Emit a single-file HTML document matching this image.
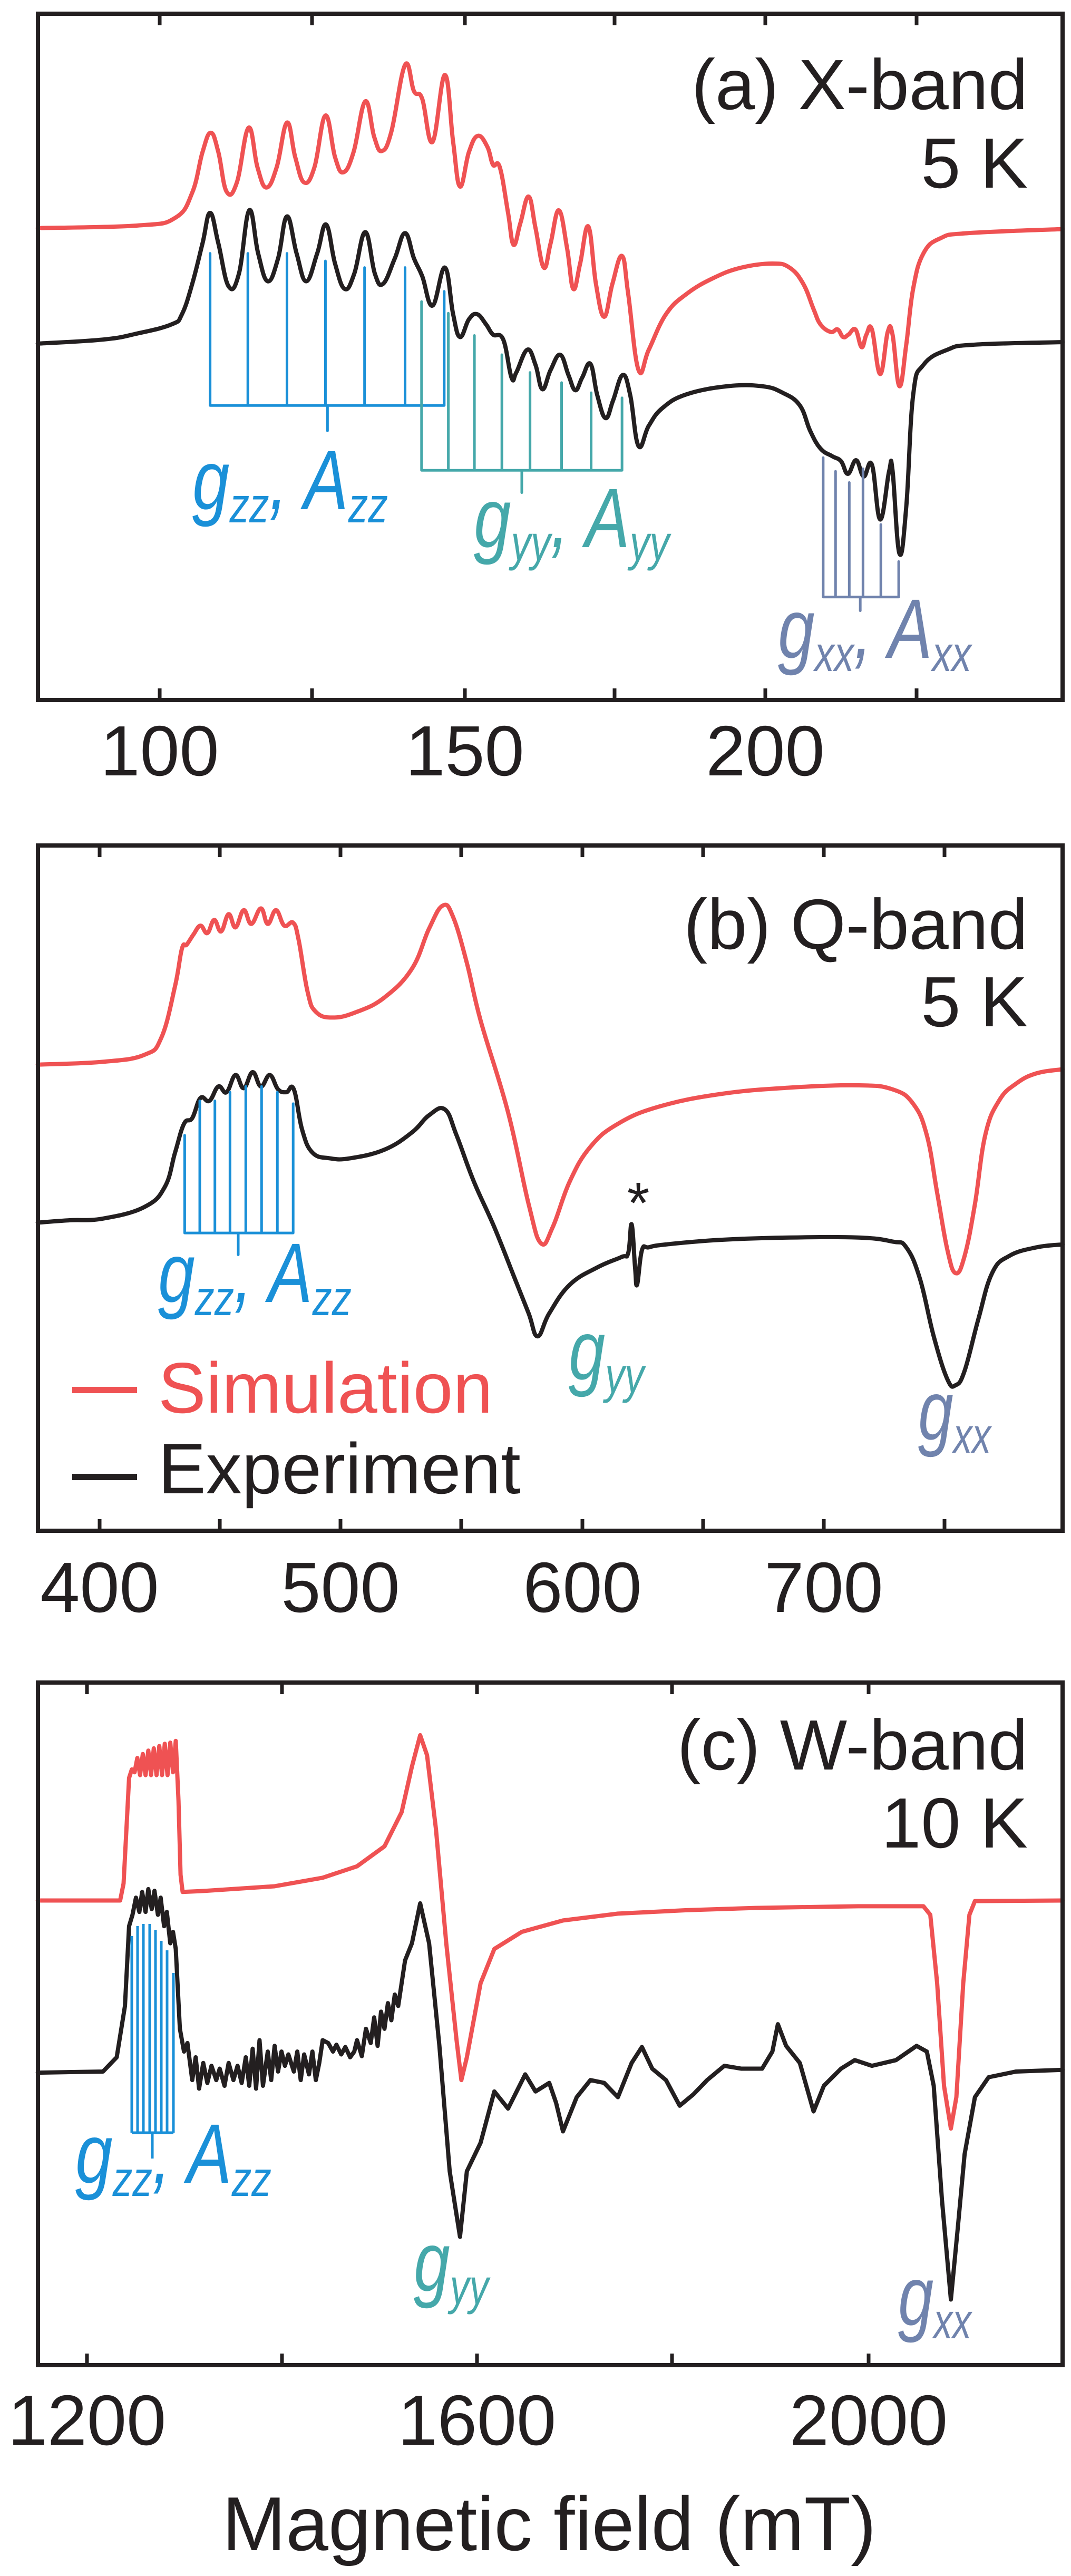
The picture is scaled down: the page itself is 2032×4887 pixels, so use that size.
<!DOCTYPE html>
<html><head><meta charset="utf-8"><style>
html,body{margin:0;padding:0;background:#fff;}
svg{display:block;}
text{font-family:"Liberation Sans",Arial,sans-serif;}
</style></head><body>
<svg id="fig" width="2032" height="4887" viewBox="0 0 2032 4887" xmlns="http://www.w3.org/2000/svg">
<rect width="2032" height="4887" fill="#fff"/>

<!-- PANEL A -->
<g transform="scale(1.3026,0.9615)" fill="none" stroke-linejoin="round" stroke-linecap="round">
<polyline class="sm" vector-effect="non-scaling-stroke" stroke="#ef5253" stroke-width="8" points="55,450 200,445 255,430 280,380 295,300 307,262 318,300 330,378 345,360 362,252 375,330 388,370 403,330 418,242 430,310 443,360 458,330 474,228 488,310 500,340 515,300 532,200 545,270 556,298 570,260 590,128 603,180 615,195 630,280 648,148 660,280 670,368 683,300 696,268 710,290 718,325 728,330 740,420 748,483 758,440 770,388 780,450 792,528 802,480 814,415 826,490 835,570 845,520 857,447 868,560 880,625 892,560 906,505 915,580 930,730 945,690 970,620 1000,580 1040,548 1080,528 1125,520 1150,528 1170,560 1185,610 1195,640 1210,655 1220,650 1228,665 1236,660 1246,650 1255,685 1262,660 1270,650 1282,738 1293,655 1300,660 1310,762 1320,680 1330,570 1345,500 1370,470 1410,460 1548,452"/>
<polyline class="sm" vector-effect="non-scaling-stroke" stroke="#231f20" stroke-width="8" points="55,678 150,670 200,658 250,640 265,620 280,560 295,480 306,420 318,480 333,565 348,540 363,415 376,500 390,555 405,510 418,427 432,500 446,555 462,500 475,443 488,520 502,570 516,540 532,458 546,540 558,560 575,510 590,460 603,510 615,545 630,603 648,528 660,620 670,665 683,630 695,620 708,640 718,660 733,670 745,745 752,735 768,690 780,720 790,768 802,730 816,700 828,740 838,770 848,745 860,718 870,780 882,825 893,790 907,740 918,780 930,880 945,840 965,805 1000,778 1060,762 1110,762 1140,775 1165,800 1180,850 1195,885 1212,900 1225,910 1235,935 1247,908 1258,940 1270,917 1282,1025 1295,930 1300,928 1310,1092 1320,1000 1330,780 1345,720 1380,690 1420,680 1548,675"/>
<path vector-effect="non-scaling-stroke" stroke="#1a90d8" stroke-width="5" d="M306,500V800M361,500V800M418,500V800M474,515V800M531,528V800M590,528V800M647,575V800M306,800H647M477,800V850"/>
<path vector-effect="non-scaling-stroke" stroke="#45a8aa" stroke-width="5" d="M614,595V928M653,618V928M691,662V928M731,700V928M772,735V928M818,755V928M861,775V928M906,785V928M614,928H906M760,928V972"/>
<path vector-effect="non-scaling-stroke" stroke="#7083ad" stroke-width="5" d="M1199,903V1178M1217,930V1178M1237,952V1178M1257,925V1178M1283,1035V1178M1309,1108V1178M1199,1178H1309M1253,1178V1205"/>
</g>
<rect x="72" y="26" width="1944" height="1302" fill="none" stroke="#231f20" stroke-width="8"/>
<path stroke="#231f20" stroke-width="7" d="M303,26v22M592,26v22M882,26v22M1166,26v22M1452,26v22M1739,26v22M303,1328v-22M592,1328v-22M882,1328v-22M1166,1328v-22M1452,1328v-22M1739,1328v-22"/>
<g font-size="135" fill="#231f20" text-anchor="middle">
<text x="303" y="1471">100</text><text x="882" y="1471">150</text><text x="1452" y="1471">200</text>
</g>
<g font-size="135" fill="#231f20" text-anchor="end">
<text x="1950" y="207">(a) X-band</text><text x="1950" y="356">5 K</text>
</g>
<text x="365" y="966" font-size="160" font-style="italic" fill="#1a90d8" textLength="371" lengthAdjust="spacingAndGlyphs">g<tspan font-size="95" dy="25">zz</tspan><tspan dy="-25">, A</tspan><tspan font-size="95" dy="25">zz</tspan></text>
<text x="899" y="1038" font-size="160" font-style="italic" fill="#45a8aa" textLength="371" lengthAdjust="spacingAndGlyphs">g<tspan font-size="95" dy="25">yy</tspan><tspan dy="-25">, A</tspan><tspan font-size="95" dy="25">yy</tspan></text>
<text x="1476" y="1248" font-size="160" font-style="italic" fill="#7083ad" textLength="367" lengthAdjust="spacingAndGlyphs">g<tspan font-size="95" dy="25">xx</tspan><tspan dy="-25">, A</tspan><tspan font-size="95" dy="25">xx</tspan></text>

<!-- PANEL B -->
<g transform="translate(0,1500) scale(1.3026,1.0897)" fill="none" stroke-linejoin="round" stroke-linecap="round">
<polyline class="sm" vector-effect="non-scaling-stroke" stroke="#ef5253" stroke-width="8" points="55,477 150,472 210,460 235,430 255,340 265,275 272,268 282,250 292,235 302,248 312,225 322,245 333,215 343,238 355,208 366,232 380,205 390,232 402,208 414,235 427,230 435,260 448,350 460,385 485,395 520,385 560,360 600,310 625,240 645,200 660,220 680,300 700,400 740,560 770,720 788,788 805,760 830,680 860,620 900,580 960,550 1050,528 1150,517 1250,513 1300,520 1330,545 1350,600 1365,700 1380,800 1392,840 1405,810 1420,720 1435,600 1455,540 1480,510 1510,492 1548,485"/>
<polyline class="sm" vector-effect="non-scaling-stroke" stroke="#231f20" stroke-width="8" points="55,752 100,748 150,745 210,725 240,690 255,630 268,580 280,570 292,535 305,540 318,515 330,525 343,495 355,518 368,490 380,515 393,495 405,520 417,525 428,520 440,590 455,630 480,640 510,640 560,625 600,595 625,565 648,555 665,600 690,680 720,760 750,850 770,910 783,950 800,910 830,860 870,830 905,812 915,805 920,755 925,830 928,860 935,800 945,795 970,790 1050,782 1150,778 1250,778 1300,785 1320,795 1340,850 1360,950 1380,1025 1392,1035 1405,1010 1425,920 1445,840 1470,810 1510,795 1548,790"/>
<path vector-effect="non-scaling-stroke" stroke="#1a90d8" stroke-width="5" d="M269,600V770M291,540V770M313,540V770M335,525V770M358,515V770M381,515V770M404,525V770M427,545V770M269,770H427M347,770V808"/>
</g>
<rect x="72" y="1604" width="1944" height="1300" fill="none" stroke="#231f20" stroke-width="8"/>
<path stroke="#231f20" stroke-width="7" d="M189,1604v22M417,1604v22M646,1604v22M875,1604v22M1105,1604v22M1334,1604v22M1563,1604v22M1792,1604v22M189,2904v-22M417,2904v-22M646,2904v-22M875,2904v-22M1105,2904v-22M1334,2904v-22M1563,2904v-22M1792,2904v-22"/>
<g font-size="135" fill="#231f20" text-anchor="middle">
<text x="189" y="3058">400</text><text x="646" y="3058">500</text><text x="1105" y="3058">600</text><text x="1563" y="3058">700</text>
</g>
<g font-size="135" fill="#231f20" text-anchor="end">
<text x="1950" y="1800">(b) Q-band</text><text x="1950" y="1947">5 K</text>
</g>
<text x="1211" y="2320" font-size="110" fill="#231f20" text-anchor="middle">*</text>
<text x="300" y="2470" font-size="160" font-style="italic" fill="#1a90d8" textLength="367" lengthAdjust="spacingAndGlyphs">g<tspan font-size="95" dy="25">zz</tspan><tspan dy="-25">, A</tspan><tspan font-size="95" dy="25">zz</tspan></text>
<text x="1079" y="2617" font-size="160" font-style="italic" fill="#45a8aa" textLength="143" lengthAdjust="spacingAndGlyphs">g<tspan font-size="95" dy="25">yy</tspan></text>
<text x="1742" y="2731" font-size="160" font-style="italic" fill="#7083ad" textLength="138" lengthAdjust="spacingAndGlyphs">g<tspan font-size="95" dy="25">xx</tspan></text>
<line x1="137" y1="2637" x2="260" y2="2637" stroke="#ef5253" stroke-width="12"/>
<line x1="137" y1="2802" x2="260" y2="2802" stroke="#231f20" stroke-width="12"/>
<text x="300" y="2680" font-size="136" fill="#ef5253">Simulation</text>
<text x="300" y="2833" font-size="136" fill="#231f20">Experiment</text>

<!-- PANEL C -->
<g transform="translate(0,3200) scale(1.3026,1.0814)" fill="none" stroke-linejoin="round" stroke-linecap="round">
<polyline vector-effect="non-scaling-stroke" stroke="#ef5253" stroke-width="8" points="55,375 175,375 180,345 185,230 188,160 192,145 196,150 200,125 204,155 208,118 212,155 216,112 220,155 224,108 228,155 232,104 236,155 240,100 244,155 248,98 252,150 256,95 260,200 263,330 266,360 300,358 400,350 470,335 520,315 560,280 585,220 600,140 612,85 622,120 635,250 650,450 665,620 672,690 680,650 700,520 720,460 760,430 820,410 900,398 1000,392 1100,388 1250,385 1345,385 1355,400 1365,520 1375,700 1385,775 1393,720 1403,520 1412,400 1420,376 1548,375"/>
<polyline vector-effect="non-scaling-stroke" stroke="#231f20" stroke-width="8" points="55,677 150,675 170,650 182,560 188,420 193,400 198,370 203,395 207,360 212,395 216,355 221,390 225,358 230,400 234,370 239,420 243,395 248,450 252,430 256,460 262,600 268,640 273,625 280,690 285,650 290,705 296,660 302,695 308,665 315,690 320,670 327,700 333,660 340,690 346,665 352,695 358,650 363,700 368,635 373,705 378,620 383,700 390,640 395,690 400,630 405,675 410,640 415,665 420,645 428,675 433,640 438,690 443,645 450,680 455,640 460,690 465,660 470,620 478,625 485,640 490,628 497,645 503,632 510,650 516,640 520,620 527,648 533,600 540,625 545,580 550,630 555,570 560,600 565,555 570,585 575,540 580,560 585,520 590,480 600,450 612,380 625,450 640,630 655,850 670,965 680,850 700,800 720,710 740,740 765,680 780,710 800,695 810,730 820,780 840,720 860,690 880,695 900,720 920,660 935,632 950,670 970,690 990,735 1010,715 1030,690 1055,665 1080,670 1110,670 1125,640 1133,592 1145,630 1165,660 1185,745 1200,700 1225,670 1245,655 1270,665 1305,655 1335,630 1350,640 1360,700 1372,900 1385,1075 1395,950 1405,820 1420,720 1440,685 1480,675 1548,672"/>
</g>
<path stroke="#1a90d8" stroke-width="5" fill="none" d="M250,3673V4046M261,3654V4046M272,3650V4046M284,3650V4046M295,3661V4046M306,3682V4046M317,3700V4046M329,3743V4046M250,4046H329M289,4046V4095"/>
<rect x="72" y="3192" width="1944" height="1295" fill="none" stroke="#231f20" stroke-width="8"/>
<path stroke="#231f20" stroke-width="7" d="M165,3192v22M535,3192v22M905,3192v22M1275,3192v22M1648,3192v22M165,4487v-22M535,4487v-22M905,4487v-22M1275,4487v-22M1648,4487v-22"/>
<g font-size="135" fill="#231f20" text-anchor="middle">
<text x="165" y="4638">1200</text><text x="905" y="4638">1600</text><text x="1648" y="4638">2000</text>
<text x="1042" y="4838" font-size="145">Magnetic field (mT)</text>
</g>
<g font-size="135" fill="#231f20" text-anchor="end">
<text x="1950" y="3357">(c) W-band</text><text x="1950" y="3505">10 K</text>
</g>
<text x="143" y="4141" font-size="160" font-style="italic" fill="#1a90d8" textLength="372" lengthAdjust="spacingAndGlyphs">g<tspan font-size="95" dy="25">zz</tspan><tspan dy="-25">, A</tspan><tspan font-size="95" dy="25">zz</tspan></text>
<text x="785" y="4346" font-size="160" font-style="italic" fill="#45a8aa" textLength="142" lengthAdjust="spacingAndGlyphs">g<tspan font-size="95" dy="25">yy</tspan></text>
<text x="1704" y="4411" font-size="160" font-style="italic" fill="#7083ad" textLength="139" lengthAdjust="spacingAndGlyphs">g<tspan font-size="95" dy="25">xx</tspan></text>
</svg>
<script>
(function(){
  var ns="http://www.w3.org/2000/svg";
  var pls=document.querySelectorAll("polyline.sm");
  for(var i=0;i<pls.length;i++){
    var pl=pls[i];
    var pts=pl.getAttribute("points").trim().split(/\s+/).map(function(s){var a=s.split(",");return [+a[0],+a[1]];});
    var d="M"+pts[0][0]+","+pts[0][1];
    for(var k=0;k<pts.length-1;k++){
      var p0=pts[k-1]||pts[k],p1=pts[k],p2=pts[k+1],p3=pts[k+2]||p2;
      var t=0.2;
      var c1=[p1[0]+(p2[0]-p0[0])*t,p1[1]+(p2[1]-p0[1])*t];
      var c2=[p2[0]-(p3[0]-p1[0])*t,p2[1]-(p3[1]-p1[1])*t];
      d+="C"+c1[0].toFixed(1)+","+c1[1].toFixed(1)+" "+c2[0].toFixed(1)+","+c2[1].toFixed(1)+" "+p2[0]+","+p2[1];
    }
    var p=document.createElementNS(ns,"path");
    p.setAttribute("d",d);
    ["stroke","stroke-width","vector-effect"].forEach(function(a){p.setAttribute(a,pl.getAttribute(a));});
    p.setAttribute("fill","none");
    pl.parentNode.replaceChild(p,pl);
  }
})();
</script>
</body></html>
